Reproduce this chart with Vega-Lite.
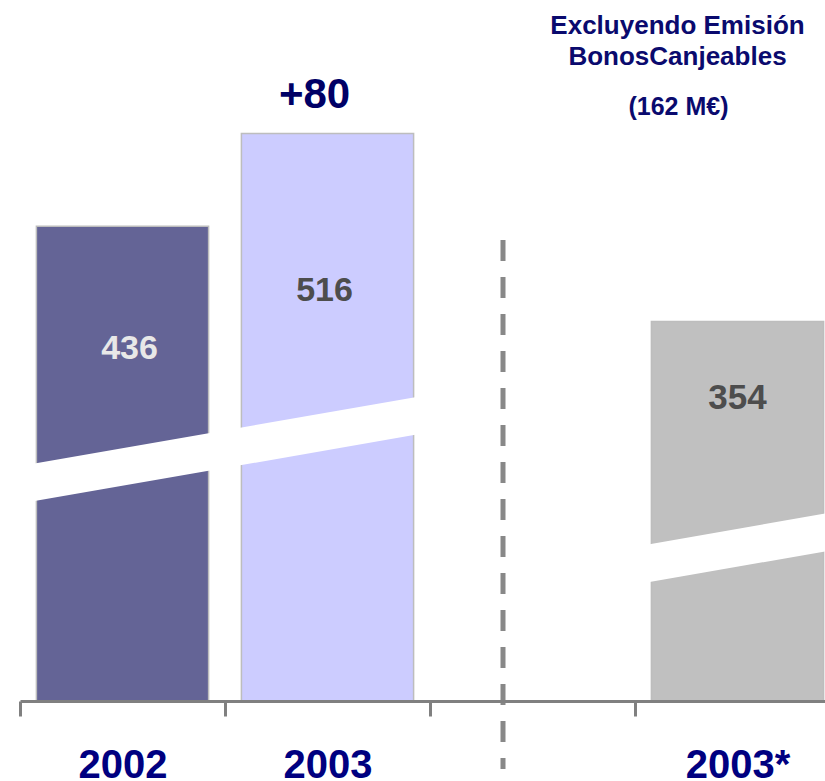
{
  "$schema": "https://vega.github.io/schema/vega-lite/v6.json",
  "width": 805,
  "height": 701,
  "autosize": {"type": "none"},
  "padding": {"left": 20, "top": 0, "right": 0, "bottom": 80},
  "background": "white",
  "config": {
    "view": {"stroke": null},
    "font": "Liberation Sans",
    "axisY": {"disable": true}
  },
  "datasets": {
    "resultado": [
      {"periodo": "2002", "valor": 436},
      {"periodo": "2003", "valor": 516},
      {"periodo": "2003*", "valor": 354}
    ],
    "corte": [
      {"tramo": "a", "u": 0.05, "arriba": 231.0, "abajo": 198.6},
      {"tramo": "a", "u": 1.97, "arriba": 290.1, "abajo": 257.6},
      {"tramo": "b", "u": 3.05, "arriba": 161.5, "abajo": 128.8},
      {"tramo": "b", "u": 3.95, "arriba": 189.3, "abajo": 156.6}
    ]
  },
  "resolve": {"scale": {"x": "independent"}, "axis": {"x": "independent"}},
  "layer": [
    {
      "data": {"name": "resultado"},
      "layer": [
        {
          "mark": {"type": "bar", "stroke": "#bdbdbd", "strokeWidth": 1.5},
          "encoding": {
            "x": {
              "field": "periodo",
              "type": "nominal",
              "title": null,
              "scale": {
                "domain": ["2002", "2003", " ", "2003*"],
                "range": [0, 820],
                "paddingInner": 0.16,
                "paddingOuter": 0.08
              },
              "axis": {
                "title": null,
                "tickOffset": -102.5,
                "labelOffset": 102.5,
                "domainColor": "#808080",
                "domainWidth": 3,
                "tickColor": "#808080",
                "tickWidth": 3,
                "tickSize": 15,
                "labelFont": "Liberation Sans",
                "labelFontWeight": "bold",
                "labelFontSize": 40,
                "labelColor": "#000080",
                "labelPadding": 29,
                "labelAngle": 0,
                "labelOverlap": false,
                "zindex": 1
              }
            },
            "y": {
              "field": "valor",
              "type": "quantitative",
              "scale": {"domain": [27, 631], "nice": false, "zero": false},
              "axis": null
            },
            "y2": {"datum": 27},
            "color": {
              "field": "periodo",
              "type": "nominal",
              "scale": {
                "domain": ["2002", "2003", "2003*"],
                "range": ["#646496", "#ccccff", "#c0c0c0"]
              },
              "legend": null
            }
          }
        },
        {
          "transform": [{"filter": "datum.periodo === '2002'"}],
          "mark": {"type": "text", "fontSize": 34, "fontWeight": "bold", "color": "#e8e8e8", "baseline": "middle", "dx": 7, "dy": 123},
          "encoding": {
            "x": {"field": "periodo", "type": "nominal"},
            "y": {"field": "valor", "type": "quantitative", "axis": null},
            "text": {"field": "valor", "type": "quantitative"}
          }
        },
        {
          "transform": [{"filter": "datum.periodo === '2003'"}],
          "mark": {"type": "text", "fontSize": 34, "fontWeight": "bold", "color": "#4d4d4d", "baseline": "middle", "dx": -3, "dy": 158},
          "encoding": {
            "x": {"field": "periodo", "type": "nominal"},
            "y": {"field": "valor", "type": "quantitative", "axis": null},
            "text": {"field": "valor", "type": "quantitative"}
          }
        },
        {
          "transform": [{"filter": "datum.periodo === '2003*'"}],
          "mark": {"type": "text", "fontSize": 35, "fontWeight": "bold", "color": "#4d4d4d", "baseline": "middle", "dx": 0, "dy": 77},
          "encoding": {
            "x": {"field": "periodo", "type": "nominal"},
            "y": {"field": "valor", "type": "quantitative", "axis": null},
            "text": {"field": "valor", "type": "quantitative"}
          }
        },
        {
          "transform": [{"filter": "datum.periodo === '2003'"}],
          "mark": {"type": "text", "text": "+80", "fontSize": 42, "fontWeight": "bold", "color": "#000066", "baseline": "middle", "dx": -13, "dy": -38},
          "encoding": {
            "x": {"field": "periodo", "type": "nominal"},
            "y": {"field": "valor", "type": "quantitative", "axis": null}
          }
        },
        {
          "data": {"values": [{"nota": "Excluyendo Emisión\nBonosCanjeables"}]},
          "mark": {"type": "text", "lineBreak": "\n", "lineHeight": 30.5, "fontSize": 26, "fontWeight": "bold", "color": "#0a0a6e", "baseline": "alphabetic", "align": "center", "dx": -60, "dy": 34},
          "encoding": {
            "x": {"datum": "2003*", "type": "nominal"},
            "y": {"datum": 631, "type": "quantitative", "axis": null},
            "text": {"field": "nota", "type": "nominal"}
          }
        },
        {
          "data": {"values": [{"nota": "(162 M€)"}]},
          "mark": {"type": "text", "fontSize": 25, "fontWeight": "bold", "color": "#0a0a6e", "baseline": "alphabetic", "align": "center", "dx": -59, "dy": 115},
          "encoding": {
            "x": {"datum": "2003*", "type": "nominal"},
            "y": {"datum": 631, "type": "quantitative", "axis": null},
            "text": {"field": "nota", "type": "nominal"}
          }
        },
        {
          "data": {"values": [{}]},
          "mark": {"type": "rule", "color": "#888888", "strokeWidth": 5, "strokeDash": [21, 16], "xOffset": -29.5},
          "encoding": {
            "x": {"datum": " ", "type": "nominal"},
            "y": {"datum": 424.2, "type": "quantitative", "axis": null},
            "y2": {"datum": -31.6}
          }
        }
      ]
    },
    {
      "data": {"name": "corte"},
      "mark": {"type": "area", "color": "white", "opacity": 1},
      "encoding": {
        "x": {
          "field": "u",
          "type": "quantitative",
          "scale": {"domain": [0, 4], "range": [0, 820], "nice": false, "zero": false},
          "axis": null
        },
        "y": {"field": "arriba", "type": "quantitative", "axis": null},
        "y2": {"field": "abajo"},
        "detail": {"field": "tramo", "type": "nominal"}
      }
    }
  ]
}
